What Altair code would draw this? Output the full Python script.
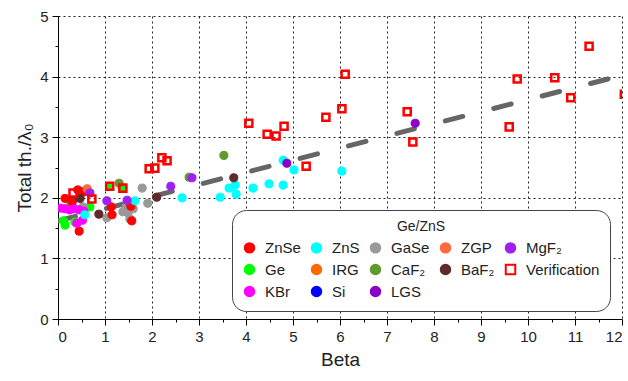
import altair as alt
import pandas as pd

# ---------------- data ----------------
materials = ["ZnSe", "ZnS", "GaSe", "ZGP", "MgF₂",
             "Ge", "IRG", "CaF₂", "BaF₂", "Verification",
             "KBr", "Si", "LGS"]
colors = ["#FF0000", "#00FFFF", "#999999", "#FF6A3D", "#A020F0",
          "#00FF00", "#FF6A00", "#5E9A30", "#5E2A2A", "#FF0000",
          "#FF00FF", "#0000FF", "#8B00C8"]

si_x = [0.30]
si_y = [1.95]
irg_x = [0.55]
irg_y = [2.10]
ge_x = [0.12, 0.15, 0.36, 0.27, 0.68, 1.10, 1.38]
ge_y = [1.62, 1.55, 1.60, 1.90, 1.85, 2.19, 2.16]
gase_x = [0.53, 1.04, 1.38, 1.49, 1.53, 1.60, 1.79, 1.91, 1.45]
gase_y = [1.85, 1.67, 1.77, 1.75, 1.65, 1.82, 2.16, 1.91, 1.85]
znse_x = [0.15, 0.30, 0.42, 0.55, 0.45, 1.13, 1.15, 1.55, 1.57]
znse_y = [1.99, 1.93, 2.13, 2.10, 1.45, 1.85, 1.72, 1.86, 1.62]
kbr_x = [0.05, 0.15, 0.25, 0.35, 0.45, 0.55, 0.40, 0.52]
kbr_y = [1.83, 1.82, 1.80, 1.82, 1.80, 1.78, 1.58, 1.63]
zns_x = [0.57, 1.64, 2.64, 3.45, 3.64, 3.77, 3.79, 4.15, 4.49, 4.79, 4.79, 5.02, 6.04]
zns_y = [1.72, 1.95, 2.00, 2.01, 2.16, 2.21, 2.06, 2.16, 2.23, 2.21, 2.62, 2.46, 2.44]
zgp_x = [0.62]
zgp_y = [2.15]
caf2_x = [1.30, 2.79, 3.53]
caf2_y = [2.24, 2.34, 2.70]
baf2_x = [0.47, 0.87, 2.10, 3.74]
baf2_y = [1.99, 1.73, 2.01, 2.33]
mgf2_x = [0.68, 1.04, 1.47, 2.40, 2.85]
mgf2_y = [2.08, 1.95, 1.96, 2.19, 2.33]
lgs_x = [4.87, 7.60]
lgs_y = [2.57, 3.23]
ver_x = [0.32, 0.72, 1.10, 1.38, 1.94, 2.06, 2.21, 2.32, 4.06, 4.45, 4.64, 4.81,
         5.28, 5.70, 6.04, 6.11, 7.43, 7.55, 9.60, 9.77, 10.57, 10.91, 11.30, 12.05]
ver_y = [2.08, 1.98, 2.19, 2.16, 2.48, 2.49, 2.66, 2.61, 3.23, 3.05, 3.02, 3.18,
         2.52, 3.33, 3.47, 4.04, 3.42, 2.92, 3.17, 3.96, 3.98, 3.65, 4.50, 3.71]

trend_x = [0.0, 12.0]
trend_y = [1.62, 4.02]

x_ticks = list(range(0, 13))
y_ticks = list(range(0, 6))
x_minor = [i + 0.5 for i in range(12)]
y_minor = [i + 0.5 for i in range(5)]

# ---------------- tables ----------------
series = [
    ("Si", si_x, si_y), ("IRG", irg_x, irg_y), ("Ge", ge_x, ge_y),
    ("GaSe", gase_x, gase_y), ("ZnSe", znse_x, znse_y), ("KBr", kbr_x, kbr_y),
    ("ZnS", zns_x, zns_y), ("ZGP", zgp_x, zgp_y), ("CaF₂", caf2_x, caf2_y),
    ("BaF₂", baf2_x, baf2_y), ("MgF₂", mgf2_x, mgf2_y), ("LGS", lgs_x, lgs_y),
    ("Verification", ver_x, ver_y),
]
rows = []
for name, xs, ys in series:
    for xv, yv in zip(xs, ys):
        rows.append({"material": name, "beta": xv, "th": yv})
pts = pd.DataFrame(rows)
trend = pd.DataFrame({"tx": trend_x, "ty": trend_y})

fills = [("transparent" if m == "Verification" else c) for m, c in zip(materials, colors)]
shapes = [("square" if m == "Verification" else "circle") for m in materials]

FONT = "Liberation Sans"
xscale = alt.Scale(domain=[0, 12], nice=False)
yscale = alt.Scale(domain=[0, 5], nice=False)

legend = alt.Legend(
    title="Ge/ZnS", orient="none", legendX=174, legendY=194, columns=5,
    direction="horizontal",
    columnPadding=6, rowPadding=3, padding=10,
    fillColor="white", strokeColor="#444444", cornerRadius=14,
    titleAnchor="middle", titleFontSize=14, titleFontWeight="normal",
    titleFont=FONT, titleColor="#222222", titlePadding=6,
    labelFont=FONT, labelFontSize=15, labelColor="#222222", labelOffset=8,
    symbolSize=90, symbolStrokeWidth=2,
)

line = alt.Chart(trend).mark_line(
    strokeDash=[18, 32], strokeCap="round", strokeWidth=5, color="#666666", clip=True
).encode(
    x=alt.X("tx:Q", scale=xscale, axis=alt.Axis(
        values=x_minor, labels=False, ticks=True, tickSize=3, domain=False,
        grid=False, title=None, orient="bottom", tickColor="#000000")),
    y=alt.Y("ty:Q", scale=yscale, axis=alt.Axis(
        values=y_minor, labels=False, ticks=True, tickSize=3, domain=False,
        grid=False, title=None, orient="left", tickColor="#000000")),
)

points = alt.Chart(pts).mark_point(filled=False, opacity=1, clip=True).encode(
    x=alt.X("beta:Q", scale=xscale, axis=alt.Axis(
        values=x_ticks, title="Beta", grid=True, gridDash=[2, 3],
        gridColor="#222222", gridOpacity=1, tickSize=6, orient="bottom",
        labelPadding=4, titlePadding=6)),
    y=alt.Y("th:Q", scale=yscale, axis=alt.Axis(
        values=y_ticks, title="Total th./λ₀", grid=True, gridDash=[2, 3],
        gridColor="#222222", gridOpacity=1, tickSize=6, orient="left",
        labelPadding=4, titlePadding=5)),
    fill=alt.Fill("material:N", scale=alt.Scale(domain=materials, range=fills), legend=legend),
    stroke=alt.Stroke("material:N", scale=alt.Scale(domain=materials, range=colors), legend=legend),
    shape=alt.Shape("material:N", scale=alt.Scale(domain=materials, range=shapes), legend=legend),
    size=alt.condition(alt.datum.material == "Verification", alt.value(50), alt.value(66)),
    strokeWidth=alt.condition(alt.datum.material == "Verification", alt.value(2.5), alt.value(1)),
)

chart = alt.layer(line, points).resolve_axis(x="independent", y="independent").properties(
    width=564, height=303,
    autosize=alt.AutoSizeParams(type="none"),
    padding={"left": 58, "top": 16, "right": 6, "bottom": 62},
).configure_view(stroke=None).configure_axis(
    labelFont=FONT, titleFont=FONT, labelFontSize=15, titleFontSize=19,
    labelColor="#222222", titleColor="#222222", titleFontWeight="normal",
    domainColor="#000000", tickColor="#000000", domainWidth=1,
)

chart.save("out.html", embed_options={"renderer": "svg", "actions": False})
